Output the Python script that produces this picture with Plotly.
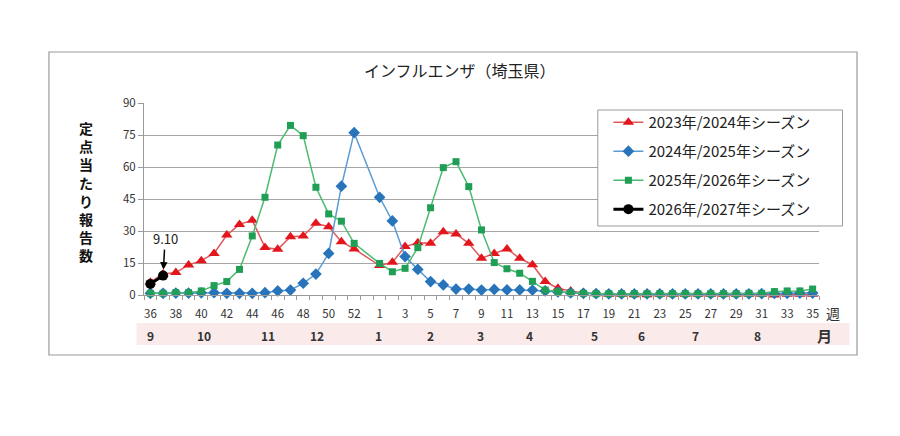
'''
weekly influenza reports per sentinel site (Saitama) for four seasons
'''
import plotly.graph_objects as go

WEEKS = list(range(36, 54)) + list(range(1, 36))

SEASON_2023 = [
    6.0, 9.8, 10.5, 14.1, 16.1, 19.5, 28.1, 33.1, 35.0, 22.3, 21.4, 27.3, 27.7, 33.6, 32.0,
    25.0, 21.6, None, 13.8, 15.3, 22.7, 24.5, 24.2, 29.7, 28.6, 24.2, 17.2, 19.5, 21.6,
    17.2, 14.2, 6.3, 3.2, 1.9, 1.0, 0.6, 0.3, 0.3, 0.1, 0.1, 0.3, 0.3, 0.3, 0.3, 0.3, 0.3,
    0.3, 0.3, 0.3, 0.0, 0.3, 0.4, 0.4,
]
SEASON_2024 = [
    0.8, 0.8, 0.9, 0.9, 1.0, 1.1, 0.8, 0.8, 0.8, 1.1, 1.9, 2.3, 5.5, 9.8, 19.5,
    51.0, 76.1, None, 45.8, 34.7, 18.0, 12.0, 6.3, 4.7, 2.8, 2.8, 2.3, 2.6, 2.4,
    2.4, 2.3, 1.9, 1.4, 1.0, 0.8, 0.6, 0.5, 0.5, 0.5, 0.5, 0.5, 0.5, 0.5, 0.5, 0.5, 0.5,
    0.5, 0.5, 0.6, 0.7, 0.8, 0.9, 0.9,
]
SEASON_2025 = [
    0.8, 0.8, 1.1, 1.1, 1.9, 4.4, 6.3, 12.0, 27.7, 45.8, 70.3, 79.5, 74.7, 50.5, 38.0,
    34.6, 24.2, None, 14.8, 10.9, 12.5, 22.2, 40.9, 59.7, 62.5, 50.8, 30.5, 15.2, 12.3,
    10.2, 6.4, 2.3, 1.6, 1.0, 0.8, 0.6, 0.6, 0.6, 0.6, 0.6, 0.6, 0.6, 0.6, 0.6, 0.6, 0.6,
    0.6, 0.8, 0.8, 1.6, 1.9, 1.9, 2.8,
]
SEASON_2026 = [5.2, 9.10] + [None] * 51

SEASON_NAMES = [
    '2023年/2024年シーズン', '2024年/2025年シーズン',
    '2025年/2026年シーズン', '2026年/2027年シーズン',
]
MONTH_LABELS = ['9', '10', '11', '12', '1', '2', '3', '4', '5', '6', '7', '8']
MONTH_X = [0, 4.2, 9.2, 13.1, 17.9, 22, 25.9, 29.8, 34.9, 38.6, 42.8, 47.7]

FONT = 'Noto Sans CJK JP'
# the page body adds 8px round the figure, so the margins take it back
PAGE_PAD = 8


def add_season(fig, values, name, line_color, marker_color, symbol, size, width):
    '''
    add one season as a line with markers, joining across the empty week 53
    '''
    fig.add_trace(go.Scatter(
        x=list(range(len(WEEKS))), y=values, name=name, mode='lines+markers',
        connectgaps=True, cliponaxis=False, legendgroup=name,
        line=dict(color=line_color, width=width),
        marker=dict(color=marker_color, symbol=symbol, size=size),
    ))


def add_text(fig, x, y, text, size, xref='paper', color='#333333'):
    '''
    centred text label, no arrow
    '''
    fig.add_annotation(x=x, y=y, xref=xref, yref='paper', text=text, showarrow=False,
                       xanchor='center', yanchor='middle',
                       font=dict(size=size, color=color))


fig = go.Figure()
add_season(fig, SEASON_2023, SEASON_NAMES[0], '#e0585c', '#e3161e', 'triangle-up', 10, 1.5)
add_season(fig, SEASON_2024, SEASON_NAMES[1], '#5b9bd5', '#2874bb', 'diamond', 9, 1.5)
add_season(fig, SEASON_2025, SEASON_NAMES[2], '#4dba72', '#1f9e55', 'square', 7, 1.5)
add_season(fig, SEASON_2026, SEASON_NAMES[3], '#000000', '#000000', 'circle', 10, 3)

### frame, month band, legend box and labels ###
fig.add_shape(type='rect', xref='paper', yref='paper', x0=-0.1408, x1=1.0563,
              y0=-0.3125, y1=1.2656, line=dict(color='#9a9a9a', width=1.2), layer='below')
fig.add_shape(type='rect', xref='paper', yref='paper', x0=-0.0111, x1=1.0453,
              y0=-0.26, y1=-0.1458, line=dict(width=0), fillcolor='#fbeaea', layer='below')
fig.add_shape(type='rect', xref='paper', yref='paper', x0=0.6723, x1=1.0348,
              y0=0.3594, y1=0.9635, line=dict(color='#9a9a9a', width=1),
              fillcolor='white', layer='above')

for label, pos in zip(MONTH_LABELS, MONTH_X):
    add_text(fig, pos, -0.2135, '<b>' + label + '</b>', 12, xref='x')
add_text(fig, 1.0083, -0.2135, '<b>月</b>', 15)
add_text(fig, 1.0201, -0.094, '週', 14)

add_text(fig, 0.468, 1.172, 'インフルエンザ（埼玉県）', 16, color='#222222')
add_text(fig, -0.0866, 0.539, '<br>'.join('<b>' + c + '</b>' for c in '定点当たり報告数'),
         14, color='#111111')

# latest value marker
fig.add_annotation(x=1, y=SEASON_2026[1], text='9.10', showarrow=True, arrowhead=2,
                   arrowsize=1, arrowwidth=1.5, arrowcolor='#000000', ax=2, ay=-37,
                   standoff=6, font=dict(size=13, color='#222222'))

fig.update_layout(
    width=900, height=436,
    margin=dict(l=143.5 - PAGE_PAD, r=80.6 + PAGE_PAD, t=103 - PAGE_PAD, b=141 + PAGE_PAD),
    paper_bgcolor='white', plot_bgcolor='white',
    font=dict(family=FONT, color='#333333'),
    showlegend=True,
    legend=dict(
        x=0.688, y=0.985, xanchor='left', yanchor='top',
        bgcolor='rgba(0,0,0,0)', borderwidth=0,
        font=dict(size=15, color='#222222'), tracegroupgap=6.5,
    ),
    xaxis=dict(
        range=[-0.5, 52.5], tickmode='array',
        tickvals=list(range(0, len(WEEKS), 2)),
        ticktext=[str(w) for w in WEEKS[::2]],
        ticks='', showgrid=False, zeroline=False, ticklabelstandoff=8,
        showline=True, linecolor='#9a9a9a', linewidth=1,
        tickfont=dict(size=11.5, color='#333333'),
        minor=dict(tickmode='array', tickvals=[i - 0.5 for i in range(len(WEEKS) + 1)],
                   ticks='outside', ticklen=4, tickcolor='#9a9a9a', showgrid=False),
    ),
    yaxis=dict(
        range=[0, 90], tickmode='array', tickvals=[0, 15, 30, 45, 60, 75, 90],
        ticks='outside', ticklen=5, tickcolor='#9a9a9a',
        showgrid=True, gridcolor='#a6a6a6', gridwidth=1, zeroline=False,
        showline=True, linecolor='#9a9a9a', linewidth=1,
        tickfont=dict(size=11.5, color='#333333'),
    ),
)

fig.write_html('out.html')
